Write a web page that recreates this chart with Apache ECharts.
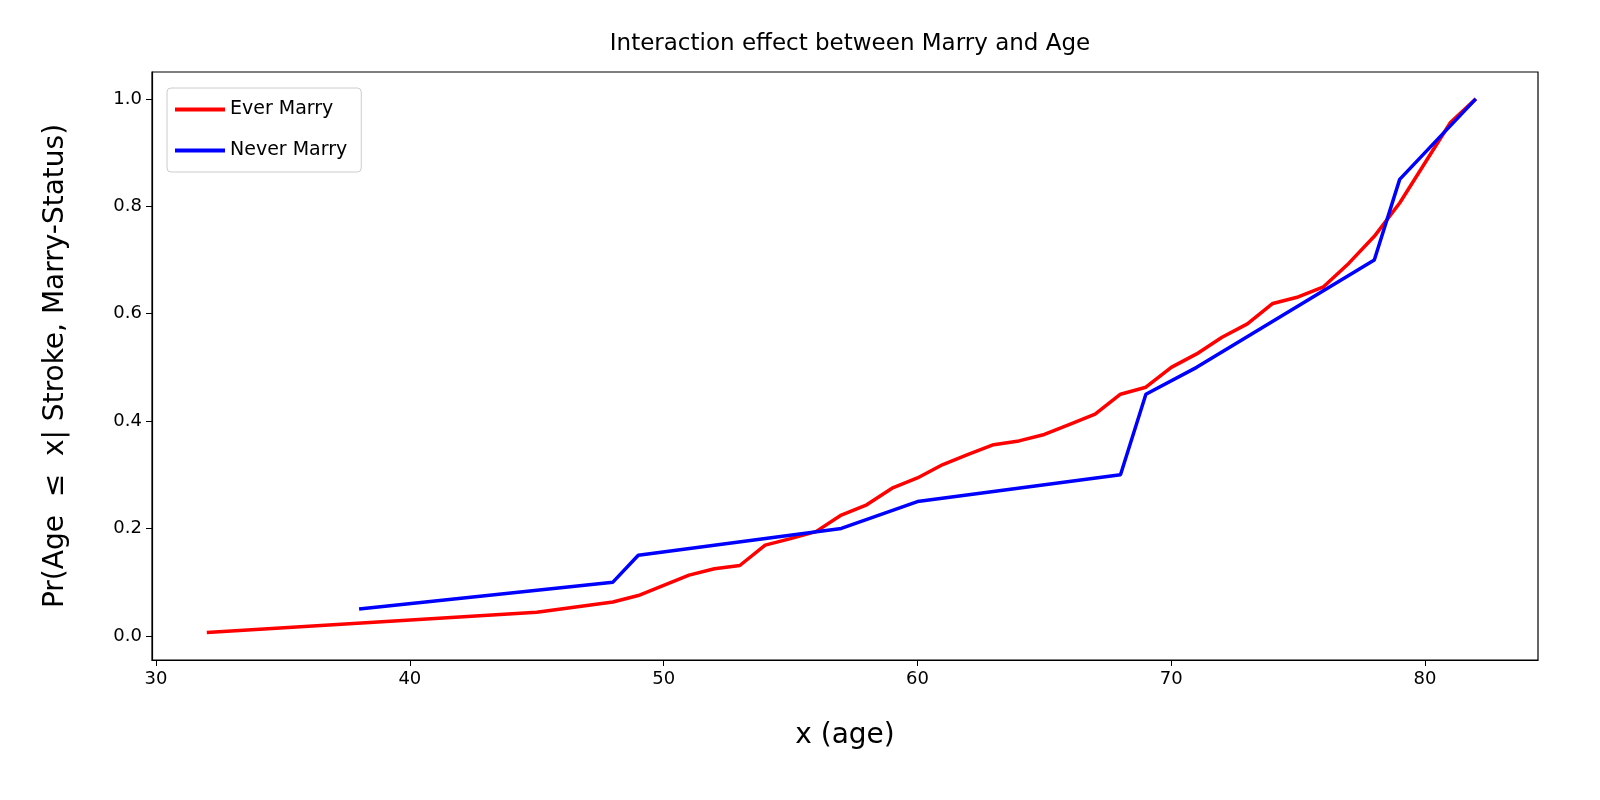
<!DOCTYPE html><html><head><meta charset="utf-8"><script src="https://cdn.jsdelivr.net/npm/echarts@6/dist/echarts.min.js"></script>
<style>html,body{margin:0;background:#fff}#c{width:1600px;height:800px}</style></head><body><div id="c"></div><script>
const everX=[32,45,48,49,50,51,52,53,54,55,56,57,58,59,60,61,62,63,64,65,66,67,68,69,70,71,72,73,74,75,76,77,78,79,80,81,82];
const everY=[0.006,0.044,0.063,0.075,0.094,0.113,0.125,0.131,0.169,0.181,0.194,0.225,0.244,0.275,0.294,0.319,0.338,0.356,0.363,0.375,0.394,0.413,0.45,0.463,0.5,0.525,0.556,0.581,0.619,0.631,0.65,0.694,0.744,0.806,0.881,0.956,1.0];
const neverX=[38,48,49,57,60,68,69,71,78,79,82];
const neverY=[0.05,0.1,0.15,0.2,0.25,0.3,0.45,0.5,0.7,0.85,1.0];
const xTicks=[30,40,50,60,70,80];
const yTicks=[0,0.2,0.4,0.6,0.8,1.0];
const F='DejaVu Sans';
const ax={lineStyle:{color:'#000',width:1.2}};
const c=echarts.init(document.getElementById('c'));
c.setOption({animation:false,
title:{text:'Interaction effect between Marry and Age',left:845,top:28,textAlign:'center',textStyle:{fontFamily:F,fontSize:23,fontWeight:'normal',color:'#000'}},
legend:{left:167,top:88,orient:'vertical',itemWidth:50,itemHeight:4,itemGap:22,padding:[12,14,12,8],borderColor:'#ccc',borderWidth:1,borderRadius:4,icon:'rect',textStyle:{fontFamily:F,fontSize:19,color:'#000'}},
grid:{left:152,right:62,top:72,bottom:140},
xAxis:{type:'value',min:29.84,max:84.45,name:'x (age)',nameLocation:'middle',nameGap:62,nameTextStyle:{fontFamily:F,fontSize:28,color:'#000'},
axisLine:{show:true,onZero:false,...ax},splitLine:{show:false},
axisTick:{show:true,length:6,customValues:xTicks,lineStyle:{color:'#000'}},
axisLabel:{customValues:xTicks,fontFamily:F,fontSize:18,color:'#000',margin:10}},
yAxis:{type:'value',min:-0.045,max:1.05,name:'Pr(Age  ≤  x| Stroke, Marry-Status)',nameLocation:'middle',nameGap:82,nameTextStyle:{fontFamily:F,fontSize:28,color:'#000'},
axisLine:{show:true,onZero:false,...ax},splitLine:{show:false},
axisTick:{show:true,length:6,customValues:yTicks,lineStyle:{color:'#000'}},
axisLabel:{customValues:yTicks,formatter:v=>v.toFixed(1),fontFamily:F,fontSize:18,color:'#000',margin:10}},
series:[
{name:'Ever Marry',type:'line',data:everX.map((x,i)=>[x,everY[i]]),showSymbol:false,lineStyle:{color:'#ff0000',width:3.5},itemStyle:{color:'#ff0000'}},
{name:'Never Marry',type:'line',data:neverX.map((x,i)=>[x,neverY[i]]),showSymbol:false,lineStyle:{color:'#0000ff',width:3.5},itemStyle:{color:'#0000ff'}}
]});
c.setOption({graphic:[{type:'rect',shape:{x:152,y:72,width:1386,height:588},style:{fill:'none',stroke:'#000',lineWidth:1.2},silent:true}]});
</script></body></html>
